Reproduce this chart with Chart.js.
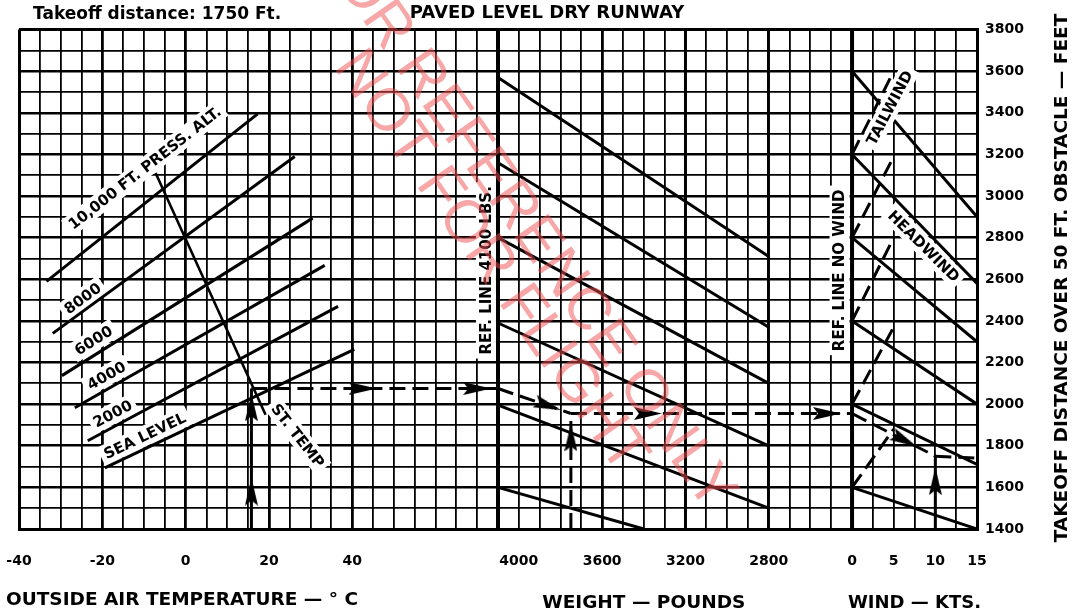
<!DOCTYPE html>
<html>
<head>
<meta charset="utf-8">
<script src="https://cdn.jsdelivr.net/npm/chart.js@4.4.1/dist/chart.umd.min.js"></script>
<style>
  html, body { margin: 0; padding: 0; background: #fff; }
</style>
</head>
<body>
<canvas id="takeoffChart" width="1075" height="612"></canvas>
<script>
// tick labels of the three panels and of the distance axis
var tempTicks = [-40, -20, 0, 20, 40];
var weightTicks = [4000, 3600, 3200, 2800];
var windTicks = [0, 5, 10, 15];
var distTicks = [1400, 1600, 1800, 2000, 2200, 2400, 2600, 2800, 3000, 3200, 3400, 3600, 3800];

// pressure altitude lines [temp C, feet]
var alt10000 = [[-33.4, 2590], [17.3, 3395]];
var alt8000 = [[-31.9, 2340], [26.2, 3190]];
var alt6000 = [[-29.7, 2137], [30.5, 2894]];
var alt4000 = [[-26.6, 1983], [33.4, 2667]];
var alt2000 = [[-23.5, 1824], [36.6, 2470]];
var altSeaLevel = [[-19.4, 1694], [40.5, 2263]];
var stdTemp = [[-7.2, 3111], [19.2, 1949]];

// weight guide lines [lbs, feet]
var wt1 = [[4100, 3570], [2800, 2710]];
var wt2 = [[4100, 3160], [2800, 2370]];
var wt3 = [[4100, 2800], [2800, 2100]];
var wt4 = [[4100, 2390], [2800, 1800]];
var wt5 = [[4100, 1995], [2800, 1500]];
var wt6 = [[4100, 1600], [3400, 1400]];
var refWeight = [[4100, 1400], [4100, 3800]];

// wind guide lines [kts, feet]
var hw1 = [[0, 3600], [15, 2900]];
var hw2 = [[0, 3200], [15, 2580]];
var hw3 = [[0, 2800], [15, 2300]];
var hw4 = [[0, 2400], [15, 2000]];
var hw5 = [[0, 2000], [15, 1710]];
var hw6 = [[0, 1600], [15, 1400]];
var tw1 = [[0, 3200], [5, 3600]];
var tw2 = [[0, 2800], [5, 3190]];
var tw3 = [[0, 2400], [5, 2800]];
var tw4 = [[0, 2000], [5, 2370]];
var tw5 = [[0, 1600], [5, 1880]];
var refWind = [[0, 1400], [0, 3800]];

// example path
var pathTempUp = [[15.8, 1400], [15.8, 2075]];
var pathTempAcross = [[15.8, 2075], [75, 2075]];
var pathWeightDown = [[4100, 2075], [3750, 1955]];
var pathWeightUp = [[3750, 1400], [3750, 1955]];
var pathWeightAcross = [[3750, 1955], [2400, 1955]];
var pathWindDown = [[0, 1955], [10, 1750]];
var pathWindUp = [[10, 1400], [10, 1750]];
var pathWindOut = [[10, 1750], [15, 1740]];

// arrow heads sitting on the path
var arrTempUp = [[15.8, 1580], [15.8, 1985]];
var arrTempAcross = [[42.5, 2075], [70, 2075]];
var arrWeightDown = [[3860, 1993]];
var arrWeightUp = [[3750, 1840]];
var arrWeightAcross = [[3380, 1955], [2520, 1955]];
var arrWindDown = [[6.3, 1826]];
var arrWindUp = [[10, 1630]];

Chart.defaults.font.family = '"DejaVu Sans", sans-serif';
Chart.defaults.color = '#000';

var FONT = '"DejaVu Sans", sans-serif';

function makeArrow(w, h) {
  var c = document.createElement('canvas');
  c.width = w;
  c.height = h;
  var g = c.getContext('2d');
  g.fillStyle = '#000';
  g.beginPath();
  g.moveTo(w / 2, 0);
  g.lineTo(w, h);
  g.lineTo(w / 2, h - 5);
  g.lineTo(0, h);
  g.closePath();
  g.fill();
  return c;
}
var arrowHead = makeArrow(13, 28);

function pts(pairs) {
  return pairs.map(function (p) { return { x: p[0], y: p[1] }; });
}

function line(pairs, axis, extra) {
  var ds = {
    data: pts(pairs), xAxisID: axis, yAxisID: 'y', showLine: true,
    borderColor: '#000', borderWidth: 3, pointRadius: 0, fill: false, order: 2
  };
  for (var k in extra) ds[k] = extra[k];
  return ds;
}

function arrows(path, pairs, axis) {
  return {
    data: pts(pairs), xAxisID: axis, yAxisID: 'y', showLine: false,
    pointStyle: arrowHead, pointRadius: 4, order: 0,
    pointRotation: function (ctx) {
      var sx = ctx.chart.scales[axis], sy = ctx.chart.scales.y;
      var dx = sx.getPixelForValue(path[1][0]) - sx.getPixelForValue(path[0][0]);
      var dy = sy.getPixelForValue(path[1][1]) - sy.getPixelForValue(path[0][1]);
      return Math.atan2(dy, dx) * 180 / Math.PI + 90;
    }
  };
}

var dash = { borderDash: [16, 7] };

var datasets = [
  arrows(pathTempUp, arrTempUp, 'x'),
  arrows(pathTempAcross, arrTempAcross, 'x'),
  arrows(pathWeightDown, arrWeightDown, 'xw'),
  arrows(pathWeightUp, arrWeightUp, 'xw'),
  arrows(pathWeightAcross, arrWeightAcross, 'xw'),
  arrows(pathWindDown, arrWindDown, 'xv'),
  arrows(pathWindUp, arrWindUp, 'xv'),

  line(alt10000, 'x'), line(alt8000, 'x'), line(alt6000, 'x'),
  line(alt4000, 'x'), line(alt2000, 'x'), line(altSeaLevel, 'x'),
  line(stdTemp, 'x', { borderWidth: 2.6 }),

  line(refWeight, 'xw', { borderWidth: 4 }),
  line(wt1, 'xw'), line(wt2, 'xw'), line(wt3, 'xw'),
  line(wt4, 'xw'), line(wt5, 'xw'), line(wt6, 'xw'),

  line(refWind, 'xv', { borderWidth: 4 }),
  line(hw1, 'xv'), line(hw2, 'xv'), line(hw3, 'xv'),
  line(hw4, 'xv'), line(hw5, 'xv'), line(hw6, 'xv'),
  line(tw1, 'xv', dash), line(tw2, 'xv', dash), line(tw3, 'xv', dash),
  line(tw4, 'xv', dash), line(tw5, 'xv', dash),

  line(pathTempUp, 'x'),
  line(pathTempAcross, 'x', dash),
  line(pathWeightDown, 'xw', dash),
  line(pathWeightUp, 'xw', dash),
  line(pathWeightAcross, 'xw', dash),
  line(pathWindDown, 'xv', dash),
  line(pathWindUp, 'xv'),
  line(pathWindOut, 'xv', dash)
];

// labels written inside the grid
var notes = [
  { text: '10,000 FT. PRESS. ALT.', axis: 'x', x: -9.8, y: 3135, angle: -38 },
  { text: '8000', axis: 'x', x: -24.7, y: 2508, angle: -36 },
  { text: '6000', axis: 'x', x: -22.1, y: 2306, angle: -32 },
  { text: '4000', axis: 'x', x: -19, y: 2137, angle: -29.5 },
  { text: '2000', axis: 'x', x: -17.5, y: 1954, angle: -28 },
  { text: 'SEA LEVEL', axis: 'x', x: -9.8, y: 1848, angle: -25.5 },
  { text: 'ST. TEMP', axis: 'x', x: 26.9, y: 1848, angle: 52 },
  { text: 'REF. LINE 4100 LBS.', axis: 'xw', x: 4158, y: 2643, angle: -90 },
  { text: 'REF. LINE NO WIND', axis: 'xv', x: -1.5, y: 2643, angle: -90 },
  { text: 'HEADWIND', axis: 'xv', x: 8.6, y: 2759, angle: 45 },
  { text: 'TAILWIND', axis: 'xv', x: 4.5, y: 3424, angle: -62, top: true }
];

function drawNote(chart, n) {
  var ctx = chart.ctx;
  var px = chart.scales[n.axis].getPixelForValue(n.x);
  var py = chart.scales.y.getPixelForValue(n.y);
  ctx.save();
  ctx.translate(px, py);
  ctx.rotate(n.angle * Math.PI / 180);
  ctx.font = 'bold 15px ' + FONT;
  var w = ctx.measureText(n.text).width;
  ctx.fillStyle = '#fff';
  ctx.fillRect(-w / 2 - 4, -10, w + 8, 20);
  ctx.fillStyle = '#000';
  ctx.textAlign = 'center';
  ctx.textBaseline = 'middle';
  ctx.fillText(n.text, 0, 1);
  ctx.restore();
}

function text(ctx, str, x, y, font, align, angle) {
  ctx.save();
  ctx.translate(x, y);
  if (angle) ctx.rotate(angle * Math.PI / 180);
  ctx.font = font;
  ctx.fillStyle = '#000';
  ctx.textAlign = align || 'center';
  ctx.textBaseline = 'middle';
  ctx.fillText(str, 0, 0);
  ctx.restore();
}

function stamp(ctx, str, x, y) {
  ctx.save();
  ctx.fillStyle = 'rgba(240, 80, 80, 0.5)';
  ctx.font = '60px "Liberation Sans", sans-serif';
  ctx.textAlign = 'center';
  ctx.textBaseline = 'middle';
  ctx.translate(x, y);
  ctx.rotate(55 * Math.PI / 180);
  ctx.fillText(str, 0, 0);
  ctx.restore();
}

var notesPlugin = {
  id: 'notes',
  beforeDatasetsDraw: function (chart) {
    notes.forEach(function (n) { if (!n.top) drawNote(chart, n); });
  },
  afterDatasetsDraw: function (chart) {
    notes.forEach(function (n) { if (n.top) drawNote(chart, n); });
  },
  afterDraw: function (chart) {
    var ctx = chart.ctx;
    var s = chart.scales;
    text(ctx, 'Takeoff distance: 1750 Ft.', 33, 15, 'bold 17px ' + FONT, 'left');
    text(ctx, 'OUTSIDE AIR TEMPERATURE \u2014 \u00b0 C', 6, 600, 'bold 18.5px ' + FONT, 'left');
    text(ctx, 'WEIGHT \u2014 POUNDS', s.xw.getPixelForValue(3400), 603, 'bold 18.5px ' + FONT);
    text(ctx, 'WIND \u2014 KTS.', s.xv.getPixelForValue(7.5), 603, 'bold 18px ' + FONT);
    text(ctx, 'TAKEOFF DISTANCE OVER 50 FT. OBSTACLE \u2014 FEET', 1062, 278, 'bold 18.5px ' + FONT, 'center', -90);

    stamp(ctx, 'FOR REFERENCE ONLY', 524, 222);
    stamp(ctx, 'NOT FOR FLIGHT', 490, 262);
  }
};

var tickFont = { family: FONT, size: 14, weight: 'bold' };
var clear = 'rgba(0,0,0,0)';

new Chart(document.getElementById('takeoffChart'), {
  type: 'scatter',
  data: { datasets: datasets },
  plugins: [notesPlugin],
  options: {
    responsive: false,
    animation: false,
    events: [],
    layout: { padding: { left: 19, right: 0, top: 0, bottom: 0 } },
    plugins: {
      legend: { display: false },
      tooltip: { enabled: false },
      title: {
        display: true,
        text: 'PAVED LEVEL DRY RUNWAY',
        color: '#000',
        font: { family: FONT, size: 18, weight: 'bold' },
        padding: { top: 3, bottom: 5 }
      }
    },
    scales: {
      x: {
        type: 'linear', position: 'bottom', min: -40, max: 190,
        afterFit: function (s) { s.height = 83; },
        ticks: {
          stepSize: 5, autoSkip: false, maxRotation: 0, padding: 4, font: tickFont, color: '#000',
          callback: function (v) { return tempTicks.indexOf(v) >= 0 ? String(v) : ''; }
        },
        grid: {
          color: '#000', drawTicks: true, tickLength: 20, tickColor: clear,
          lineWidth: function (ctx) {
            var v = ctx.tick ? ctx.tick.value : null;
            if (v === -40) return 3;
            return tempTicks.indexOf(v) >= 0 ? 2.8 : 1.8;
          }
        },
        border: { color: '#000', width: 3 }
      },
      xw: {
        axis: 'x', type: 'linear', reverse: true, min: 1800, max: 6400, position: { y: 1400 },
        afterBuildTicks: function (s) { s.ticks = weightTicks.map(function (v) { return { value: v }; }); },
        ticks: {
          autoSkip: false, maxRotation: 0, padding: 4, font: tickFont, color: '#000',
          callback: function (v) { return String(v); }
        },
        grid: {
          drawTicks: true, tickLength: 20, tickColor: clear,
          color: function (ctx) { return ctx.index === 0 ? clear : '#000'; },
          lineWidth: 2.8
        },
        border: { display: false }
      },
      xv: {
        axis: 'x', type: 'linear', min: -100, max: 15, position: { y: 1400 },
        afterBuildTicks: function (s) { s.ticks = windTicks.map(function (v) { return { value: v }; }); },
        ticks: {
          autoSkip: false, maxRotation: 0, padding: 4, font: tickFont, color: '#000',
          callback: function (v) { return String(v); }
        },
        grid: { drawOnChartArea: false, drawTicks: true, tickLength: 20, tickColor: clear },
        border: { display: false }
      },
      y: {
        type: 'linear', position: 'right', min: 1400, max: 3800,
        afterFit: function (s) { s.width = 98; },
        ticks: {
          stepSize: 100, autoSkip: false, padding: 8, font: tickFont, color: '#000',
          callback: function (v) { return distTicks.indexOf(v) >= 0 ? String(v) : ''; }
        },
        grid: {
          color: '#000', drawTicks: false,
          lineWidth: function (ctx) {
            var v = ctx.tick ? ctx.tick.value : null;
            if (v === 3800) return 3;
            return distTicks.indexOf(v) >= 0 ? 2.6 : 1.8;
          }
        },
        border: { color: '#000', width: 3 }
      }
    }
  }
});
</script>
</body>
</html>
